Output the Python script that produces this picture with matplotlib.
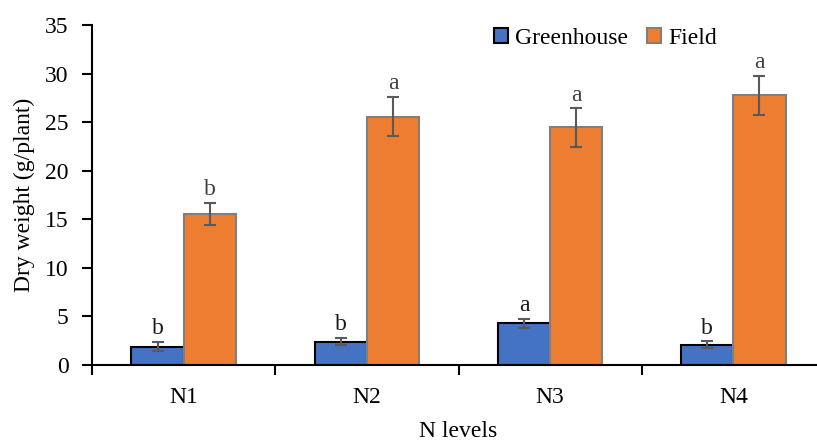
import matplotlib
matplotlib.use("Agg")
import matplotlib.pyplot as plt
import numpy as np

categories = ["N1", "N2", "N3", "N4"]
greenhouse = [1.9, 2.4, 4.3, 2.1]
greenhouse_err = [0.45, 0.38, 0.48, 0.32]
field = [15.55, 25.55, 24.45, 27.75]
field_err = [1.1, 2.0, 1.96, 1.97]
greenhouse_letters = ["b", "b", "a", "b"]
field_letters = ["b", "a", "a", "a"]
yticks = [0, 5, 10, 15, 20, 25, 30, 35]

plt.rcParams['font.family'] = ['Liberation Serif', 'DejaVu Serif']
FS = 17

fig = plt.figure(figsize=(8.17, 4.42), dpi=100)
W, H = 817, 442
left, right, bottom, top = 92, 825, 365, 25
ax = fig.add_axes([left / W, 1 - bottom / H, (right - left) / W, (bottom - top) / H])

x = np.arange(len(categories))
w = 0.285
ek = dict(ecolor="#595959", elinewidth=1.5, capsize=4, capthick=1.5)
ax.bar(x - w / 2, greenhouse, w, color="#4472C4", edgecolor="black", linewidth=1.5,
       yerr=greenhouse_err, error_kw=ek, label="Greenhouse", zorder=2)
ax.bar(x + w / 2, field, w, color="#ED7D31", edgecolor="#7F7F7F", linewidth=1.5,
       yerr=field_err, error_kw=ek, label="Field", zorder=2)

for i in range(len(categories)):
    ax.text(x[i] - w / 2, greenhouse[i] + greenhouse_err[i] + 0.3, greenhouse_letters[i],
            ha="center", va="bottom", fontsize=FS, color="#1a1a1a")
    ax.text(x[i] + w / 2, field[i] + field_err[i] + 0.3, field_letters[i],
            ha="center", va="bottom", fontsize=FS, color="#404040")

ax.set_xlim(-0.5, 3.5)
ax.set_ylim(0, 35)
ax.set_yticks(yticks)
ax.set_xticks(np.arange(-0.5, 3.6, 1.0))
ax.set_xticklabels([])
ax.set_xticks(x, minor=True)
ax.set_xticklabels(categories, minor=True)
ax.tick_params(axis="x", which="major", length=7, width=1.5, direction="out")
ax.tick_params(axis="x", which="minor", length=0, pad=16, labelsize=FS)
ax.tick_params(axis="y", length=7, width=1.5, direction="out", labelsize=FS, pad=10)

for s in ["top", "right"]:
    ax.spines[s].set_visible(False)
for s in ["left", "bottom"]:
    ax.spines[s].set_linewidth(1.5)
    ax.spines[s].set_color("black")

ax.set_ylabel("Dry weight (g/plant)", fontsize=FS)
ax.yaxis.set_label_coords(-(92 - 35) / 733, 0.5)
ax.set_xlabel("N levels", fontsize=FS, labelpad=9)

ax.legend(loc="upper center", bbox_to_anchor=(0.70, 1.02), ncol=2, frameon=False,
          fontsize=FS, handlelength=0.6, handleheight=0.6, handletextpad=0.3,
          columnspacing=0.8, borderaxespad=0.0)

fig.savefig("out.png", dpi=100)
